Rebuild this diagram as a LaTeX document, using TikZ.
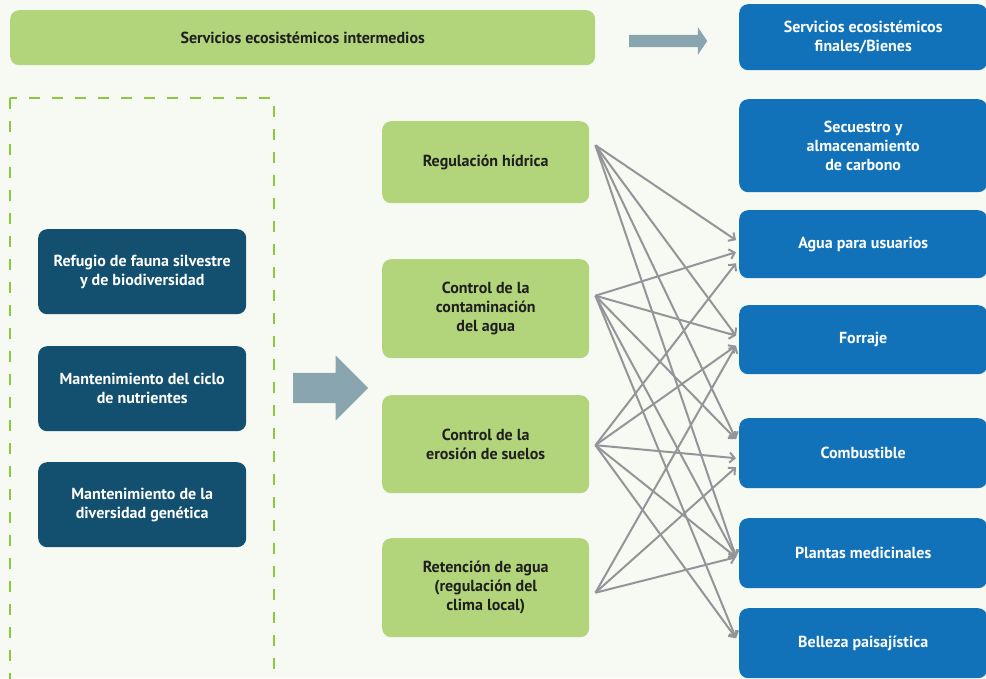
\documentclass[tikz,border=0pt]{standalone}
\usepackage{fontspec}
\setmainfont{PT Sans}
\usetikzlibrary{arrows.meta, shapes.arrows, positioning}
\definecolor{bgpale}{HTML}{F7FAF3}
\definecolor{leafgreen}{HTML}{B2D47A}
\definecolor{dashgreen}{HTML}{8DC63F}
\definecolor{finalblue}{HTML}{1172BA}
\definecolor{deepblue}{HTML}{134F6E}
\definecolor{slate}{HTML}{89A5B0}
\definecolor{linkgray}{HTML}{939598}
\tikzset{
x=1pt, y=-1pt, % one unit is one pixel of the reference, y runs downwards
box/.style={rounded corners=9pt, align=center, inner sep=0pt, anchor=north west,
  font=\bfseries\fontsize{16}{18.8}\selectfont},
midbox/.style={box, fill=leafgreen, text=black!88, minimum width=207pt}, % intermediate services
leftbox/.style={box, fill=deepblue, text=white, minimum width=208pt, minimum height=85pt},
finbox/.style={box, fill=finalblue, text=white, minimum width=248pt}, % final services
fatarrow/.style={single arrow, fill=slate, draw=none, inner xsep=0pt, anchor=west},
link/.style={linkgray, line width=2pt, -{Straight Barb[length=5pt, width=10pt]}},
}

\begin{document}
\begin{tikzpicture}
  \clip (0,0) rectangle (986,678);
  \fill[bgpale] (0,0) rectangle (986,678);

  % header row
  \node[midbox, minimum width=585pt, minimum height=55pt] (head-mid) at (10,10) {Servicios ecosistémicos intermedios};
  \node[finbox, minimum height=66pt] (head-fin) at (739,4) {Servicios ecosistémicos\\finales/Bienes};
  \node[fatarrow, minimum height=78pt, minimum width=27pt, inner ysep=6pt,
        single arrow head extend=7.5pt, single arrow tip angle=112] (head-arrow) at (629,41) {};

  % supporting services
  \draw[dashgreen, line width=1.8pt, dash pattern=on 11pt off 12pt] (10,98) rectangle (274,700);
  \node[leftbox] (refugio) at (38,229) {Refugio de fauna silvestre\\y de biodiversidad};
  \node[leftbox] (ciclo) at (38,346) {Mantenimiento del ciclo\\de nutrientes};
  \node[leftbox] (genetica) at (38,462) {Mantenimiento de la\\diversidad genética};
  \node[fatarrow, minimum height=75pt, minimum width=65pt, inner ysep=15pt,
        single arrow head extend=17.5pt, single arrow tip angle=90] (big-arrow) at (293,388) {};

  % intermediate services
  \node[midbox, minimum height=82pt] (hidrica) at (382,121) {Regulación hídrica};
  \node[midbox, minimum height=99pt] (contam) at (382,259) {Control de la\\contaminación\\del agua};
  \node[midbox, minimum height=98pt] (erosion) at (382,395) {Control de la\\erosión de suelos};
  \node[midbox, minimum height=99pt] (retencion) at (382,538) {Retención de agua\\(regulación del\\clima local)};

  % final services
  \node[finbox, minimum height=93pt] (carbono) at (739,99) {Secuestro y\\almacenamiento\\de carbono};
  \node[finbox, minimum height=68pt] (agua) at (739,210) {Agua para usuarios};
  \node[finbox, minimum height=69pt] (forraje) at (739,305) {Forraje};
  \node[finbox, minimum height=70pt] (combustible) at (739,418) {Combustible};
  \node[finbox, minimum height=70pt] (plantas) at (739,518) {Plantas medicinales};
  \node[finbox, minimum height=70pt] (belleza) at (739,608) {Belleza paisajística};

  % start and end points of the links
  \coordinate (hidrica-out) at ([xshift=6pt, yshift=17pt]hidrica.east);
  \coordinate (contam-out) at ([xshift=6pt, yshift=13pt]contam.east);
  \coordinate (erosion-out) at ([xshift=6pt, yshift=-1pt]erosion.east);
  \coordinate (retencion-out) at ([xshift=6pt, yshift=-5pt]retencion.east);
  \coordinate (agua-a) at ([xshift=-3pt, yshift=4pt]agua.west);
  \coordinate (agua-b) at ([xshift=-3pt, yshift=-8pt]agua.west);
  \coordinate (agua-c) at ([xshift=-3pt, yshift=-19pt]agua.west);
  \coordinate (forraje-a) at ([xshift=-3pt, yshift=4pt]forraje.west);
  \coordinate (forraje-b) at ([xshift=-3pt, yshift=-6pt]forraje.west);
  \coordinate (combustible-a) at ([xshift=-3pt, yshift=14pt]combustible.west);
  \coordinate (combustible-b) at ([xshift=-3pt, yshift=-5pt]combustible.west);
  \coordinate (combustible-c) at ([xshift=-3pt, yshift=-14pt]combustible.west);
  \coordinate (plantas-a) at ([xshift=-3pt, yshift=-4pt]plantas.west);
  \coordinate (belleza-a) at ([xshift=-3pt, yshift=5pt]belleza.west);

  \path[link] (hidrica-out) edge (agua-a)
        (hidrica-out) edge (forraje-a)
        (hidrica-out) edge (combustible-a)
        (hidrica-out) edge (plantas-a)
        (contam-out) edge (agua-b)
        (contam-out) edge (forraje-a)
        (contam-out) edge (combustible-a)
        (contam-out) edge (plantas-a)
        (contam-out) edge (belleza-a)
        (erosion-out) edge (agua-c)
        (erosion-out) edge (forraje-b)
        (erosion-out) edge (combustible-b)
        (erosion-out) edge (plantas-a)
        (erosion-out) edge (belleza-a)
        (retencion-out) edge (forraje-b)
        (retencion-out) edge (combustible-c)
        (retencion-out) edge (plantas-a);

\end{tikzpicture}
\end{document}
